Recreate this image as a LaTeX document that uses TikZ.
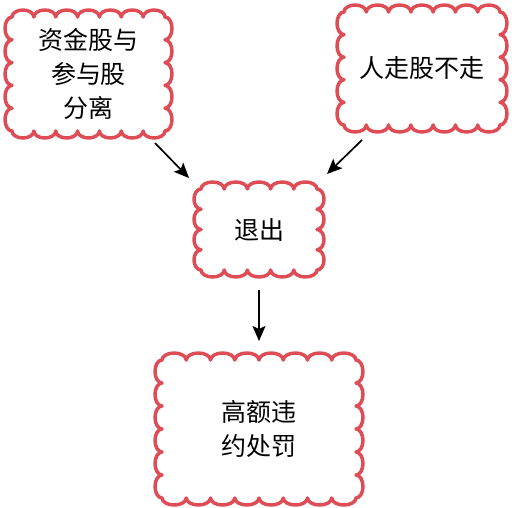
\documentclass[tikz,border=0pt]{standalone}
\usepackage{fontspec}
\setmainfont{Noto Sans CJK SC}
\usetikzlibrary{calc,arrows.meta}
\definecolor{cloudred}{RGB}{222,76,86}
% scalloped outline round a node: #1 node, #2 bumps across, #3 bumps down
\newcommand\scallops[3]{%
  \draw[cloudline] let \p1=(#1.north west), \p2=(#1.south east),
      \n1={(\x2-\x1)/(2*#2)}, \n2={(\y1-\y2)/(2*#3)} in
    (\p1) foreach \i in {1,...,#2} {arc[start angle=180, end angle=0, x radius={\n1*1pt}, y radius=7pt]}
    foreach \i in {1,...,#3} {arc[start angle=90, end angle=-90, x radius=7pt, y radius={\n2*1pt}]}
    foreach \i in {1,...,#2} {arc[start angle=0, end angle=-180, x radius={\n1*1pt}, y radius=7pt]}
    foreach \i in {1,...,#3} {arc[start angle=-90, end angle=-270, x radius=7pt, y radius={\n2*1pt}]} -- cycle;
}
\begin{document}
\begin{tikzpicture}[>={Stealth[length=15pt,width=13pt,inset=3pt]}, x=1pt, y=1pt,
    cloudline/.style={draw=cloudred, line width=3.5pt, line join=round},
    box/.style={inner sep=0pt, outer sep=0pt, align=center,
        font=\fontsize{25}{34}\selectfont},
    arr/.style={->, line width=1.7pt}]
\useasboundingbox (0,0) rectangle (512,-508);

\node[box, minimum width=153pt, minimum height=114pt] (fund) at (88.5,-74) {资金股与\\参与股\\分离};
\node[box, minimum width=156pt, minimum height=113pt] (stock) at (422,-68.5) {人走股不走};
\node[box, minimum width=116pt, minimum height=81pt] (exit) at (259,-229.5) {退出};
\node[box, minimum width=194pt, minimum height=138pt] (penalty) at (259,-429) {高额违\\约处罚};

\scallops{fund}{7}{5}
\scallops{stock}{7}{5}
\scallops{exit}{5}{4}
\scallops{penalty}{8}{6}

\draw[arr] ([xshift=-10pt,yshift=-12pt]fund.south east) -- ([xshift=-12pt,yshift=11pt]exit.north west);
\draw[arr] ([xshift=18pt,yshift=-15pt]stock.south west) -- ([xshift=10pt,yshift=15pt]exit.north east);
\draw[arr] ([yshift=-20pt]exit.south) -- ([yshift=19pt]penalty.north);
\end{tikzpicture}
\end{document}
